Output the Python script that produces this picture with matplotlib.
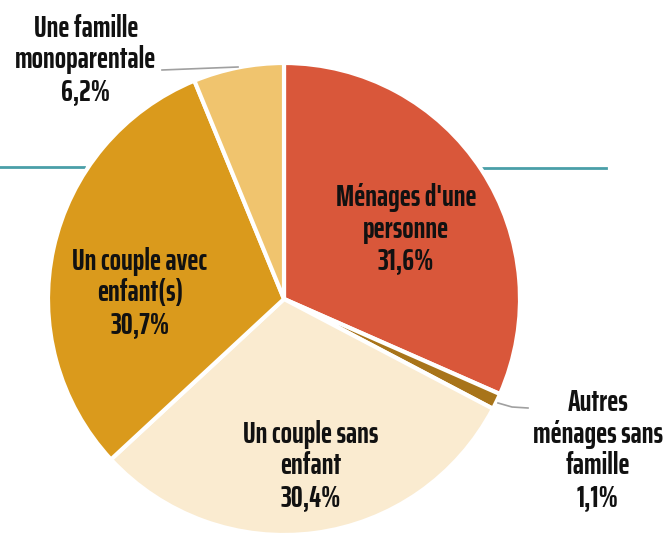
import matplotlib
matplotlib.use("Agg")
import matplotlib.pyplot as plt

labels = ["Ménages d'une\npersonne", "Autres\nménages sans\nfamille", "Un couple sans\nenfant",
          "Un couple avec\nenfant(s)", "Une famille\nmonoparentale"]
values = [31.6, 1.1, 30.4, 30.7, 6.2]
value_labels = ["31,6%", "1,1%", "30,4%", "30,7%", "6,2%"]
colors = ["#D9573A", "#A8741A", "#FAEBD0", "#DA9A1C", "#F0C46E"]

fam = ['Saira ExtraCondensed', 'DejaVu Sans']

W, H = 669, 534
fig = plt.figure(figsize=(W/100, H/100), dpi=100)
ax = fig.add_axes([0, 0, 1, 1])

def Y(y):
    return H - y

ax.plot([0, 84], [Y(167), Y(167)], color="#4A9FA8", lw=2, zorder=0)
ax.plot([483, 606], [Y(168), Y(168)], color="#4A9FA8", lw=2, zorder=0)

ax.pie(values, colors=colors, startangle=90, counterclock=False,
       center=(284, Y(299)), radius=236, frame=True,
       wedgeprops=dict(edgecolor="white", linewidth=3))
ax.set_xlim(0, W)
ax.set_ylim(0, H)
ax.set_aspect('auto')
ax.axis('off')

ax.plot([162, 238], [Y(70), Y(67)], color="#A0A0A0", lw=1.2)
ax.plot([498, 512, 528], [Y(403), Y(407), Y(408)], color="#A0A0A0", lw=1.2)

pos = [(406, 229), (598, 450), (311, 466), (140, 293), (86, 60)]
for lab, vl, (x, y) in zip(labels, value_labels, pos):
    ax.text(x, Y(y), lab + "\n" + vl, ha='center', va='center', family=fam,
            fontweight='bold', fontsize=21.5, linespacing=1.12, color="#111111")

fig.savefig("out.png", dpi=100)
